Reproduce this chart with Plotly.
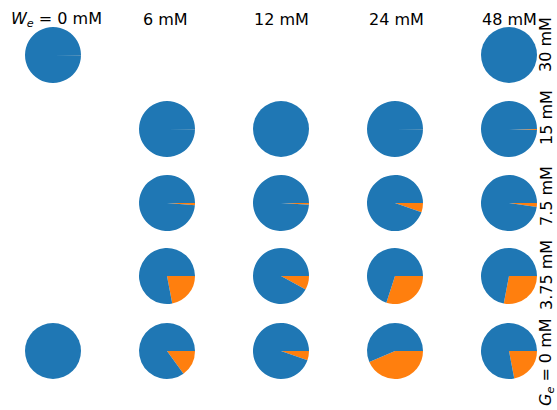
import plotly.graph_objects as go

# Column (W_e) and row (G_e) labels
col_labels = ["<i>W</i><sub><i>e</i></sub> = 0 mM", "6 mM", "12 mM", "24 mM", "48 mM"]
row_labels = ["30 mM", "15 mM", "7.5 mM", "3.75 mM", "<i>G</i><sub><i>e</i></sub> = 0 mM"]

# Orange fraction of each pie (None = no pie); rows top->bottom, cols left->right
orange_frac = [
    [0.001, None,  None,  None,  0.0],
    [None,  0.001, 0.0,   0.001, 0.005],
    [None,  0.013, 0.010, 0.053, 0.023],
    [None,  0.22,  0.08,  0.30,  0.28],
    [0.0,   0.15,  0.054, 0.435, 0.22],
]
blue_frac = [[None if v is None else 1 - v for v in row] for row in orange_frac]

W, H = 557, 410
col_x = [53, 167, 281, 395, 509]
row_y = [55, 129, 203, 276, 351]
R = 28
col_label_x = [56, 165, 281, 396, 509]
row_label_y = [45, 118, 196, 275, 362]

fig = go.Figure()
for i, row in enumerate(orange_frac):
    for j, o in enumerate(row):
        if o is None:
            continue
        cx, cy = col_x[j], row_y[i]
        fig.add_trace(go.Pie(
            values=[o, blue_frac[i][j]],
            labels=["b", "a"],
            sort=False,
            direction="clockwise",
            rotation=90,
            textinfo="none",
            hoverinfo="skip",
            showlegend=False,
            marker=dict(colors=["#ff7f0e", "#1f77b4"], line=dict(width=0)),
            domain=dict(x=[(cx - R) / W, (cx + R) / W],
                        y=[1 - (cy + R) / H, 1 - (cy - R) / H]),
        ))

font = dict(family="DejaVu Sans", size=16, color="black")
for j, lab in enumerate(col_labels):
    fig.add_annotation(x=col_label_x[j] / W, y=1 - 19 / H, xref="paper", yref="paper",
                       text=lab, showarrow=False, font=font,
                       xanchor="center", yanchor="middle")
for i, lab in enumerate(row_labels):
    fig.add_annotation(x=546 / W, y=1 - row_label_y[i] / H, xref="paper", yref="paper",
                       text=lab, showarrow=False, font=font, textangle=-90,
                       xanchor="center", yanchor="middle")

fig.update_layout(width=W, height=H, margin=dict(l=0, r=0, t=0, b=0),
                  paper_bgcolor="white", plot_bgcolor="white")
fig.write_html("out.html")
